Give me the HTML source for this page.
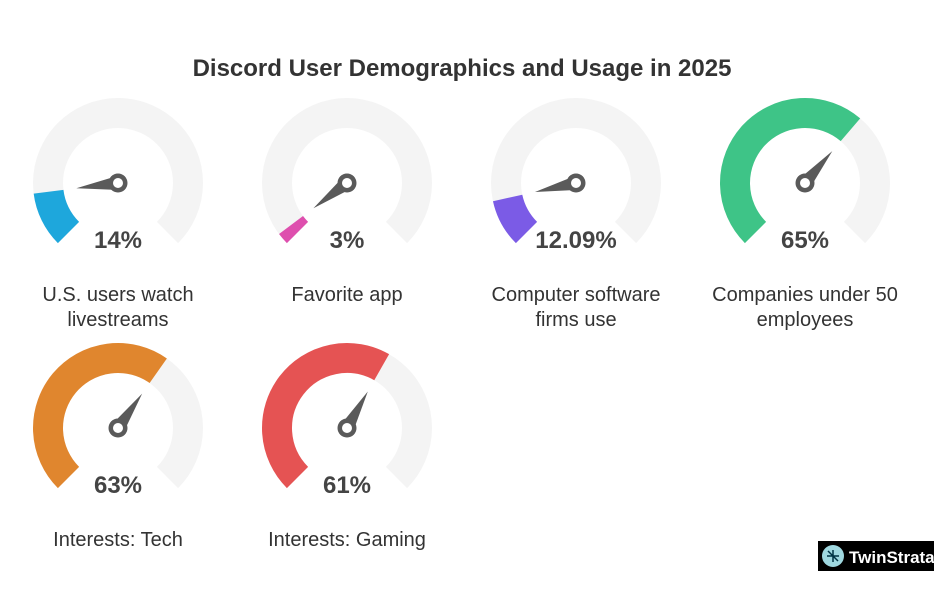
<!DOCTYPE html>
<html><head><meta charset="utf-8"><style>
body{margin:0;background:#fff;width:934px;height:600px;overflow:hidden;font-family:"Liberation Sans",sans-serif}
</style></head><body>
<svg id="s" width="934" height="600" xmlns="http://www.w3.org/2000/svg" font-family="Liberation Sans, sans-serif">
<text x="462" y="76" text-anchor="middle" font-size="24" font-weight="bold" fill="#333">Discord User Demographics and Usage in 2025</text>
<g transform="translate(818,541)">
<rect width="116" height="30" fill="#000"/>
<circle cx="15" cy="15" r="11" fill="#9fd8e0"/>
<path d="M9 15h12M15 9v12M10 10l10 10" stroke="#034" stroke-width="1.5"/>
<text x="31" y="22" font-size="17" font-weight="bold" fill="#fff">TwinStrata</text>
</g>
</svg>
<script>
var s=document.getElementById('s');
var g=[[118,183,14,'#1EA7DC','14%',['U.S. users watch','livestreams']],
[347,183,3,'#DE4FAE','3%',['Favorite app']],
[576,183,12.09,'#7B5BE6','12.09%',['Computer software','firms use']],
[805,183,65,'#3EC487','65%',['Companies under 50','employees']],
[118,428,63,'#E0862E','63%',['Interests: Tech']],
[347,428,61,'#E55353','61%',['Interests: Gaming']]];
function pt(cx,cy,r,a){a=a*Math.PI/180;return [cx+r*Math.cos(a),cy+r*Math.sin(a)];}
function arc(cx,cy,r,a0,a1){var p=pt(cx,cy,r,a0),q=pt(cx,cy,r,a1);return 'M'+p[0]+' '+p[1]+'A'+r+' '+r+' 0 '+((a1-a0)>180?1:0)+' 1 '+q[0]+' '+q[1];}
var h='';
g.forEach(function(d){var cx=d[0],cy=d[1],a1=135+270*d[2]/100;
h+='<path d="'+arc(cx,cy,70,135,405)+'" stroke="#F4F4F4" stroke-width="30" fill="none"/>';
h+='<path d="'+arc(cx,cy,70,135,a1)+'" stroke="'+d[3]+'" stroke-width="30" fill="none"/>';
var t=pt(cx,cy,42,a1),b1=pt(cx,cy,7,a1+90),b2=pt(cx,cy,7,a1-90);
h+='<path d="M'+t[0]+' '+t[1]+'L'+b1[0]+' '+b1[1]+'L'+b2[0]+' '+b2[1]+'Z" fill="#5a5a5a"/>';
h+='<circle cx="'+cx+'" cy="'+cy+'" r="9.5" fill="#5a5a5a"/><circle cx="'+cx+'" cy="'+cy+'" r="5" fill="#fff"/>';
h+='<text x="'+cx+'" y="'+(cy+65)+'" text-anchor="middle" font-size="24" font-weight="bold" fill="#444">'+d[4]+'</text>';
d[5].forEach(function(l,i){h+='<text x="'+cx+'" y="'+(cy+118+i*25)+'" text-anchor="middle" font-size="20" fill="#333">'+l+'</text>';});
});
s.insertAdjacentHTML('beforeend',h);
</script>
</body></html>
